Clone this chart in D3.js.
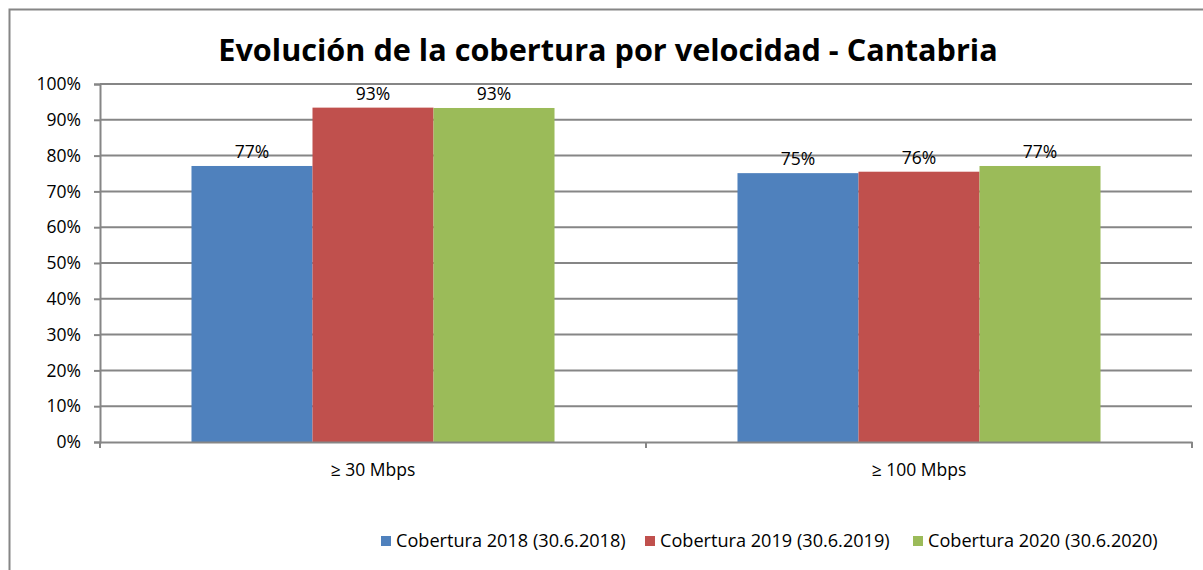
<!DOCTYPE html>
<meta charset="utf-8">
<script src="https://d3js.org/d3.v7.min.js"></script>
<style>
  body { margin: 0; background: #fff; }
  text { font-family: "Open Sans", sans-serif; fill: #000; }
</style>
<div id="chart"></div>
<script>
// data
const categories = ["≥ 30 Mbps", "≥ 100 Mbps"];
const seriesNames = ["Cobertura 2018 (30.6.2018)", "Cobertura 2019 (30.6.2019)", "Cobertura 2020 (30.6.2020)"];
const values2018 = [77.1, 75.1];
const values2019 = [93.4, 75.5];
const values2020 = [93.3, 77.1];
const yTicks = [0, 10, 20, 30, 40, 50, 60, 70, 80, 90, 100];
const colors = ["#4F81BD", "#C0504D", "#9BBB59"];

const W = 1203, H = 570;
const margin = { top: 84, right: 11, bottom: 128, left: 100 };
const width = W - margin.left - margin.right,
      height = H - margin.top - margin.bottom;

const svg = d3.select("#chart").append("svg")
    .attr("width", W).attr("height", H);

// outer border
svg.append("rect")
    .attr("x", 9.5).attr("y", 9.5)
    .attr("width", W + 20).attr("height", H + 20)
    .attr("fill", "none").attr("stroke", "#868686").attr("stroke-width", 2);

// fit a text element to a target width
function fit(sel, target) {
  sel.each(function () {
    const el = d3.select(this);
    const fs = parseFloat(el.attr("font-size"));
    const w = this.getComputedTextLength();
    el.attr("font-size", fs * target / w);
  });
}

svg.append("text")
    .attr("x", 608).attr("y", 61)
    .attr("text-anchor", "middle")
    .attr("font-size", 32).attr("font-weight", "bold")
    .text("Evolución de la cobertura por velocidad - Cantabria")
    .call(fit, 780);

const g = svg.append("g")
    .attr("transform", "translate(" + margin.left + "," + margin.top + ")");

const x0 = d3.scaleBand().domain(categories).range([0, width]).paddingInner(0).paddingOuter(0);
const x1 = d3.scaleBand().domain(seriesNames)
    .range([0, x0.bandwidth()]).paddingOuter(0.756);
const y = d3.scaleLinear().domain([0, 100]).range([height, 0]);

// gridlines
g.append("g").selectAll("line")
    .data(yTicks.filter(d => d > 0))
    .join("line")
    .attr("x1", 0).attr("x2", width)
    .attr("y1", d => y(d)).attr("y2", d => y(d))
    .attr("stroke", "#868686").attr("stroke-width", 2);

// y axis
const yAxis = g.append("g")
    .call(d3.axisLeft(y).tickValues(yTicks).tickFormat(d => d + "%").tickSize(6).tickPadding(13));
yAxis.select(".domain").attr("stroke", "#868686").attr("stroke-width", 2);
yAxis.selectAll(".tick line").attr("stroke", "#868686").attr("stroke-width", 2);
yAxis.selectAll("text").attr("font-size", 17.5).attr("font-family", "Open Sans").attr("fill", "#000");

const table = categories.map((c, i) => ({
  cat: c,
  vals: [values2018[i], values2019[i], values2020[i]]
}));

// bars
const groups = g.append("g").selectAll("g")
    .data(table).join("g")
    .attr("transform", d => "translate(" + x0(d.cat) + ",0)");

groups.selectAll("rect")
    .data(d => d.vals.map((v, i) => ({ key: seriesNames[i], v: v, i: i })))
    .join("rect")
    .attr("x", d => x1(d.key))
    .attr("width", x1.bandwidth())
    .attr("y", d => y(d.v))
    .attr("height", d => height - y(d.v))
    .attr("fill", d => colors[d.i]);

groups.selectAll("text")
    .data(d => d.vals.map((v, i) => ({ key: seriesNames[i], v: v, i: i })))
    .join("text")
    .attr("x", d => x1(d.key) + x1.bandwidth() / 2)
    .attr("y", d => y(d.v) - 8)
    .attr("text-anchor", "middle")
    .attr("font-size", 17.5)
    .text(d => Math.round(d.v) + "%");

// x axis
const xAxis = g.append("g")
    .attr("transform", "translate(0," + height + ")")
    .call(d3.axisBottom(x0).tickSize(0).tickPadding(22));
xAxis.select(".domain").attr("stroke", "#868686").attr("stroke-width", 2);
xAxis.selectAll("text").attr("font-size", 17.5).attr("font-family", "Open Sans").attr("fill", "#000");
xAxis.append("g").selectAll("line")
    .data([0, width / 2, width])
    .join("line")
    .attr("x1", d => d).attr("x2", d => d)
    .attr("y1", 0).attr("y2", 6)
    .attr("stroke", "#868686").attr("stroke-width", 2);

// legend
const legendX = [381, 645, 913];
const legend = svg.append("g").selectAll("g")
    .data(seriesNames).join("g")
    .attr("transform", (d, i) => "translate(" + legendX[i] + ",536)");
legend.append("rect")
    .attr("width", 10).attr("height", 10)
    .attr("fill", (d, i) => colors[i]);
legend.append("text")
    .attr("x", 15).attr("y", 11)
    .attr("font-size", 15.5)
    .text(d => d)
    .call(fit, 230);
</script>
